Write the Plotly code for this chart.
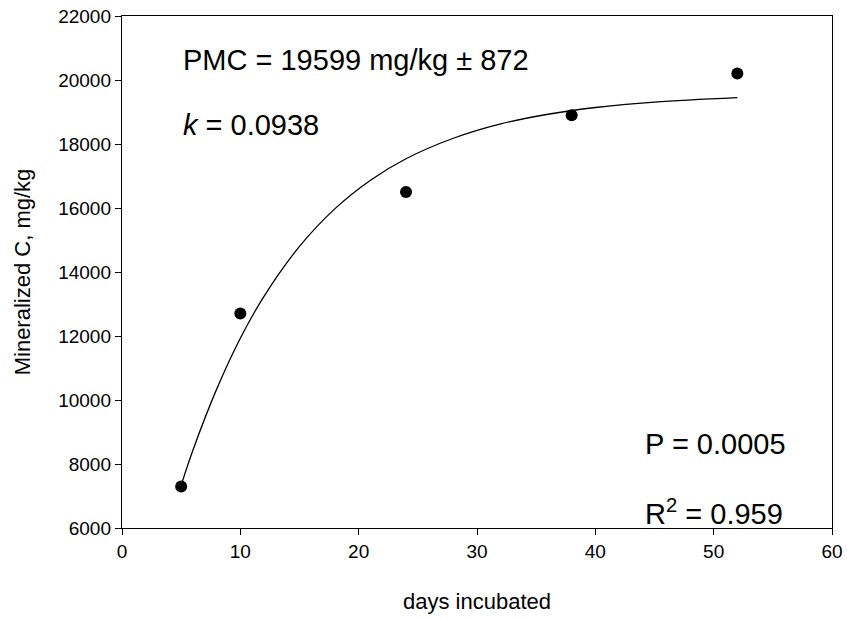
import plotly.graph_objects as go

# Observed data
days = [5, 10, 24, 38, 52]
mineralized_c = [7300, 12700, 16500, 18900, 20200]

# Fitted curve
curve_days = [5, 6, 8, 10, 12, 15, 18, 21, 24, 28, 32, 36, 40, 45, 52]
curve_c = [7340, 8440, 10340, 11930, 13240, 14800, 15980, 16870, 17540,
           18180, 18630, 18930, 19140, 19310, 19450]

x_ticks = [0, 10, 20, 30, 40, 50, 60]
y_ticks = [6000, 8000, 10000, 12000, 14000, 16000, 18000, 20000, 22000]
x_tick_text = [str(v) for v in x_ticks]
y_tick_text = [str(v) for v in y_ticks]

FONT = "Arial, 'Liberation Sans', sans-serif"

fig = go.Figure()
fig.add_trace(go.Scatter(x=curve_days, y=curve_c, mode="lines",
                         line=dict(color="black", width=1.3, shape="spline"),
                         showlegend=False, hoverinfo="skip"))
fig.add_trace(go.Scatter(x=days, y=mineralized_c, mode="markers",
                         marker=dict(color="black", size=12), showlegend=False))

axis_common = dict(showline=True, linecolor="black", linewidth=1.4, mirror=True, ticks="outside",
                   ticklen=6, tickwidth=1.4, tickcolor="black", showgrid=False, zeroline=False,
                   ticklabeloverflow="allow", automargin=False,
                   tickfont=dict(family=FONT, size=19, color="black"))

fig.update_xaxes(range=[0, 60], tickvals=x_ticks, ticktext=x_tick_text,
                 title=dict(text="days incubated", font=dict(family=FONT, size=22, color="black"), standoff=32),
                 **axis_common)
fig.update_yaxes(range=[6000, 22000], tickvals=y_ticks, ticktext=y_tick_text,
                 title=dict(text="Mineralized C, mg/kg", font=dict(family=FONT, size=22, color="black"), standoff=21),
                 **axis_common)

ann_font = dict(family=FONT, size=29, color="black")
fig.add_annotation(x=5.0, y=20625, xref="x", yref="y", text="PMC = 19599 mg/kg ± 872",
                   showarrow=False, xanchor="left", yanchor="middle", font=ann_font)
fig.add_annotation(x=5.0, y=18594, xref="x", yref="y", text="<i>k</i> = 0.0938",
                   showarrow=False, xanchor="left", yanchor="middle", font=ann_font)
fig.add_annotation(x=44.0, y=8625, xref="x", yref="y", text="P = 0.0005",
                   showarrow=False, xanchor="left", yanchor="middle", font=ann_font)
fig.add_annotation(x=44.0, y=6500, xref="x", yref="y", text="R<sup>2</sup> = 0.959",
                   showarrow=False, xanchor="left", yanchor="middle", font=ann_font)

fig.update_layout(width=847, height=621, margin=dict(l=122, r=15, t=16, b=93),
                  plot_bgcolor="white", paper_bgcolor="white", font=dict(family=FONT))

# remove the browser's default body margin so the figure fills the window exactly
fig.write_html("out.html", config={"displayModeBar": False},
               post_script="document.body.style.margin='0';document.body.style.overflow='hidden';")
